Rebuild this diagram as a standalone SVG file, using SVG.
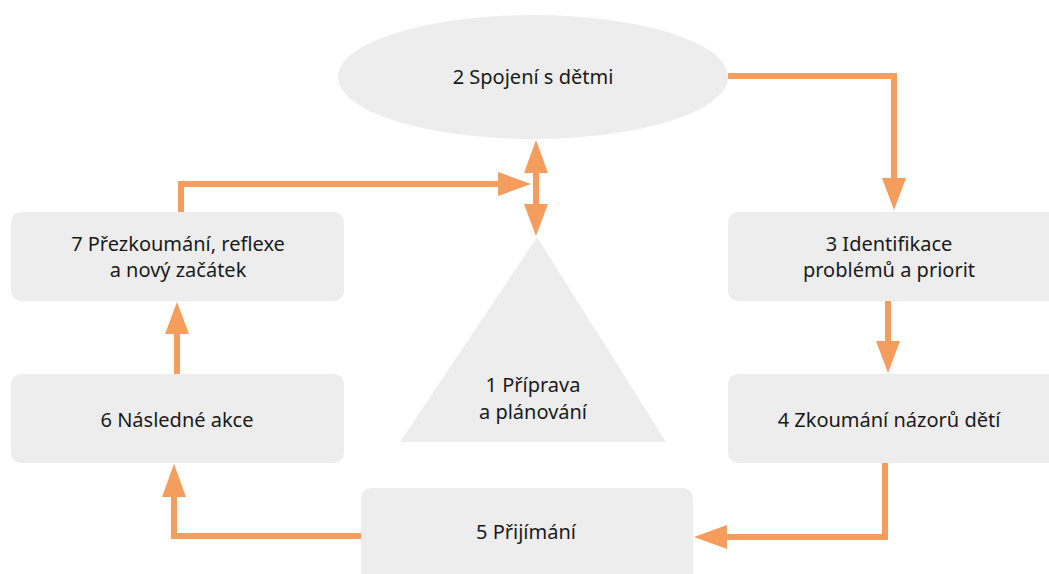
<svg xmlns="http://www.w3.org/2000/svg" width="1049" height="574" viewBox="0 0 1049 574">
<style>
.n{fill:#ededed}
.t{font-family:"Noto Sans","Open Sans",sans-serif;font-size:20px;fill:#1a1a1a;text-anchor:middle}
.c{fill:none;stroke:#f59d5c;stroke-width:6}
.h{fill:#f59d5c}
</style>
<rect width="1049" height="574" fill="#fff"/>
<g id="n2"><ellipse class="n" cx="533" cy="77" rx="195" ry="62"/><text class="t" x="533" y="84">2 Spojení s dětmi</text></g>
<g id="n1"><polygon class="n" points="537,237 666,442 400,442"/><text class="t" x="533" y="392">1 Příprava</text><text class="t" x="533" y="419">a plánování</text></g>
<g id="n7"><rect class="n" x="11" y="212" width="333" height="89" rx="10"/><text class="t" x="178" y="251">7 Přezkoumání, reflexe</text><text class="t" x="178" y="277">a nový začátek</text></g>
<g id="n3"><rect class="n" x="728" y="212" width="340" height="89" rx="10"/><text class="t" x="889" y="251">3 Identifikace</text><text class="t" x="889" y="277">problémů a priorit</text></g>
<g id="n6"><rect class="n" x="11" y="374" width="333" height="89" rx="10"/><text class="t" x="177" y="427">6 Následné akce</text></g>
<g id="n4"><rect class="n" x="728" y="374" width="340" height="89" rx="10"/><text class="t" x="889" y="427">4 Zkoumání názorů dětí</text></g>
<g id="n5"><rect class="n" x="361" y="488" width="332" height="100" rx="10"/><text class="t" x="526" y="539">5 Přijímání</text></g>
<g id="connectors">
<polyline class="c" points="728,76 894,76 894,180"/>
<polygon class="h" points="882,178 906,178 894,210"/>
<polyline class="c" points="888,301 888,343"/>
<polygon class="h" points="876,341 900,341 888,373"/>
<polyline class="c" points="885,463 885,537 725,537"/>
<polygon class="h" points="727,525 727,549 694,537"/>
<polyline class="c" points="361,536 174,536 174,495"/>
<polygon class="h" points="162,497 186,497 174,464"/>
<polyline class="c" points="177,374 177,332"/>
<polygon class="h" points="165,334 189,334 177,302"/>
<polyline class="c" points="181,212 181,184 500,184"/>
<polygon class="h" points="498,172 498,196 531,184"/>
<polyline class="c" points="536,171 536,206"/>
<polygon class="h" points="524,173 548,173 536,140"/>
<polygon class="h" points="524,204 548,204 536,236"/>
</g>
</svg>
